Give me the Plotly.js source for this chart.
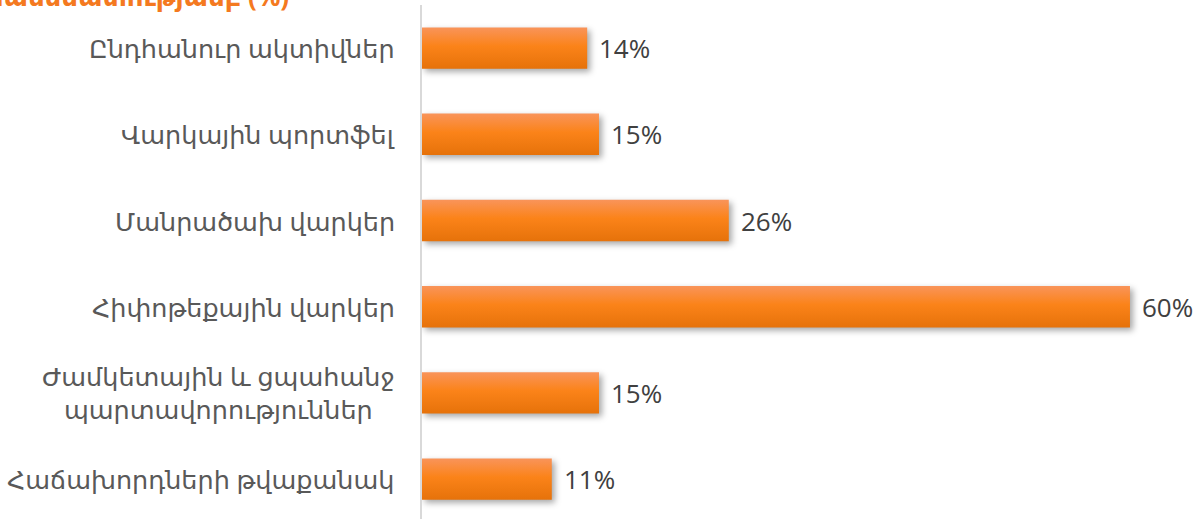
<!DOCTYPE html>
<html>
<head>
<meta charset="utf-8">
<script src="https://cdn.plot.ly/plotly-3.0.1.min.js"></script>
<style>html,body{margin:0;padding:0;background:#fff;}#chart{width:1199px;height:519px;}</style>
</head>
<body>
<div id="chart"></div>
<script>
var chartTitle = "Աճը նախորդ տարվա համեմատությամբ (%)";
var categories = [
  "Ընդհանուր ակտիվներ",
  "Վարկային պորտֆել",
  "Մանրածախ վարկեր",
  "Հիփոթեքային վարկեր",
  "Ժամկետային և ցպահանջ<br>պարտավորություններ",
  "Հաճախորդների թվաքանակ"
];
var values = [14, 15, 26, 60, 15, 11];
var valueLabels = ["14%", "15%", "26%", "60%", "15%", "11%"];

var FONT = "'Noto Sans', 'DejaVu Sans', sans-serif";
var NUMFONT = "'Open Sans', 'Noto Sans', sans-serif";
var idx = categories.map(function(_, i){ return i; });

var annotations = [];
categories.forEach(function(c, i){
  annotations.push({
    x: 0, xref: 'x', xanchor: 'right', xshift: -25,
    y: i, yref: 'y', yanchor: 'middle',
    text: c, showarrow: false, align: 'center',
    font: {family: FONT, size: 25.5, color: '#595959'}
  });
  annotations.push({
    x: values[i], xref: 'x', xanchor: 'left', xshift: 10,
    y: i, yref: 'y', yanchor: 'middle',
    text: valueLabels[i], showarrow: false,
    font: {family: NUMFONT, size: 26, color: '#404040'}
  });
});
annotations.push({
  x: -0.168, xref: 'paper', xanchor: 'right',
  y: 1 + 9/514, yref: 'paper', yanchor: 'middle',
  text: '<b>' + chartTitle + '</b>', showarrow: false,
  font: {family: FONT, size: 26, color: '#F47920'}
});

var trace = {
  type: 'bar', orientation: 'h',
  x: values, y: idx,
  marker: {color: '#F88219'},
  hoverinfo: 'none'
};

var layout = {
  width: 1199, height: 519,
  margin: {l: 422, r: 0, t: 5, b: 0},
  paper_bgcolor: '#ffffff', plot_bgcolor: '#ffffff',
  bargap: 0.52,
  showlegend: false,
  xaxis: {range: [0, 65.85], showgrid: false, zeroline: false, showticklabels: false, showline: false, fixedrange: true},
  yaxis: {range: [5.463, -0.5], showgrid: false, zeroline: false, showticklabels: false,
          showline: true, linecolor: '#D9D9D9', linewidth: 2, fixedrange: true},
  annotations: annotations
};

Plotly.newPlot('chart', [trace], layout, {staticPlot: true}).then(function(gd){
  var svg = gd.querySelector('.main-svg');
  var ns = 'http://www.w3.org/2000/svg';
  var defs = svg.querySelector('defs') || svg.insertBefore(document.createElementNS(ns, 'defs'), svg.firstChild);
  var g = document.createElementNS(ns, 'linearGradient');
  g.setAttribute('id', 'barGrad');
  g.setAttribute('x1', '0'); g.setAttribute('y1', '0');
  g.setAttribute('x2', '0'); g.setAttribute('y2', '1');
  [['0', '#F9945A'], ['0.45', '#FB8319'], ['1', '#E6720A']].forEach(function(s){
    var st = document.createElementNS(ns, 'stop');
    st.setAttribute('offset', s[0]); st.setAttribute('stop-color', s[1]);
    g.appendChild(st);
  });
  defs.appendChild(g);
  gd.querySelectorAll('.bars .point path').forEach(function(p){
    p.style.fill = 'url(#barGrad)';
    p.style.filter = 'drop-shadow(3px 3px 3px rgba(0,0,0,0.35))';
  });
});
</script>
</body>
</html>
